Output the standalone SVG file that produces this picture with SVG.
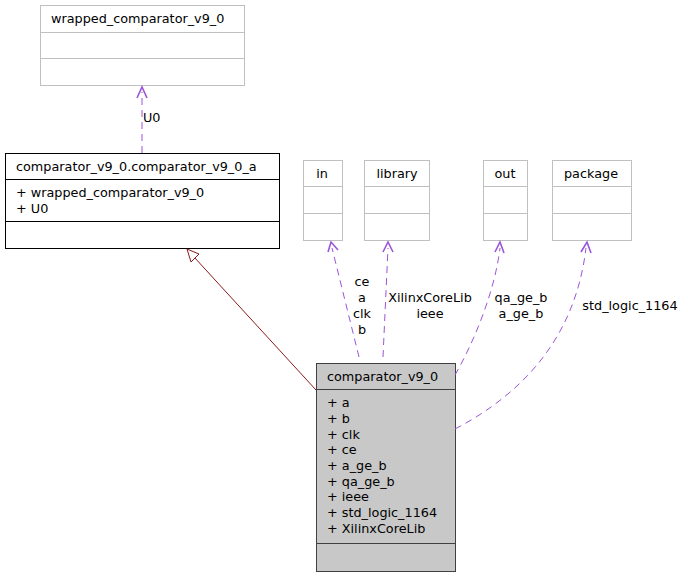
<svg xmlns="http://www.w3.org/2000/svg" width="688" height="579" viewBox="0 0 688 579">
<style>
text{font-family:"DejaVu Sans","Liberation Sans",sans-serif;font-size:12.8px;fill:#000}
.g{fill:#fff;stroke:#c0c0c0;stroke-width:1}
.b{fill:#fff;stroke:#000;stroke-width:1}
.m{fill:#c8c8c8;stroke:#404040;stroke-width:1}
.d{fill:none;stroke:#9b55d8;stroke-width:1;stroke-dasharray:7,5}
.v{fill:none;stroke:#9b55d8;stroke-width:1.6}
.c{text-anchor:middle}
</style>
<rect width="688" height="579" fill="#fff"/>
<g id="wrapped">
<rect class="g" x="40.5" y="5.5" width="204" height="80"/>
<line class="g" x1="40.5" y1="32.5" x2="244.5" y2="32.5"/>
<line class="g" x1="40.5" y1="58.5" x2="244.5" y2="58.5"/>
<text x="51" y="23">wrapped_comparator_v9_0</text>
</g>
<g id="comparator_a">
<rect class="b" x="5.5" y="153.5" width="274" height="95"/>
<line class="b" x1="5.5" y1="179.5" x2="279.5" y2="179.5"/>
<line class="b" x1="5.5" y1="221.5" x2="279.5" y2="221.5"/>
<text x="16" y="171">comparator_v9_0.comparator_v9_0_a</text>
<text x="16" y="197">+ wrapped_comparator_v9_0</text>
<text x="16" y="213">+ U0</text>
</g>
<g id="in">
<rect class="g" x="303.5" y="160.5" width="39" height="80"/>
<line class="g" x1="303.5" y1="186.5" x2="342.5" y2="186.5"/>
<line class="g" x1="303.5" y1="213.5" x2="342.5" y2="213.5"/>
<text class="c" x="322" y="178">in</text>
</g>
<g id="library">
<rect class="g" x="364.5" y="160.5" width="65" height="80"/>
<line class="g" x1="364.5" y1="186.5" x2="429.5" y2="186.5"/>
<line class="g" x1="364.5" y1="213.5" x2="429.5" y2="213.5"/>
<text class="c" x="397" y="178">library</text>
</g>
<g id="out">
<rect class="g" x="483.5" y="160.5" width="44" height="80"/>
<line class="g" x1="483.5" y1="186.5" x2="527.5" y2="186.5"/>
<line class="g" x1="483.5" y1="213.5" x2="527.5" y2="213.5"/>
<text class="c" x="505" y="178">out</text>
</g>
<g id="package">
<rect class="g" x="552.5" y="160.5" width="79" height="80"/>
<line class="g" x1="552.5" y1="186.5" x2="631.5" y2="186.5"/>
<line class="g" x1="552.5" y1="213.5" x2="631.5" y2="213.5"/>
<text class="c" x="591" y="178">package</text>
</g>
<g id="comparator_v9_0">
<rect class="m" x="316.5" y="363.5" width="139" height="208"/>
<line class="m" x1="316.5" y1="389.5" x2="455.5" y2="389.5"/>
<line class="m" x1="316.5" y1="543.5" x2="455.5" y2="543.5"/>
<text x="327" y="381">comparator_v9_0</text>
<text x="327" y="407">+ a</text>
<text x="327" y="423">+ b</text>
<text x="327" y="439">+ clk</text>
<text x="327" y="454">+ ce</text>
<text x="327" y="470">+ a_ge_b</text>
<text x="327" y="486">+ qa_ge_b</text>
<text x="327" y="501">+ ieee</text>
<text x="327" y="517">+ std_logic_1164</text>
<text x="327" y="533">+ XilinxCoreLib</text>
</g>
<g id="connectors">
<path class="d" d="M142,153 L142,92"/>
<path class="v" d="M137,98 L142,87 L147,98"/>
<text x="143" y="122">U0</text>
<path d="M316,390 L194,257" fill="none" stroke="#8b1a1a" stroke-width="1"/>
<path d="M187,249 L191,262 L199,254 Z" fill="#fff" stroke="#8b1a1a" stroke-width="1"/>
<path class="d" d="M359,357 L332,248"/>
<path class="v" d="M328,252 L331,242 L338,250"/>
<text class="c" x="362" y="286">ce</text>
<text class="c" x="362" y="302">a</text>
<text class="c" x="362" y="318">clk</text>
<text class="c" x="362" y="334">b</text>
<path class="d" d="M383,357 L388,248"/>
<path class="v" d="M383,252 L388,242 L393,252"/>
<text class="c" x="430" y="302">XilinxCoreLib</text>
<text class="c" x="430" y="318">ieee</text>
<path class="d" d="M455,375 C475,340 495,290 500,248"/>
<path class="v" d="M495,252 L500,242 L504,253"/>
<text class="c" x="521" y="302">qa_ge_b</text>
<text class="c" x="521" y="318">a_ge_b</text>
<path class="d" d="M455,429 C520,395 575,340 586,248"/>
<path class="v" d="M581,252 L587,242 L591,253"/>
<text class="c" x="630" y="310">std_logic_1164</text>
</g>
</svg>
